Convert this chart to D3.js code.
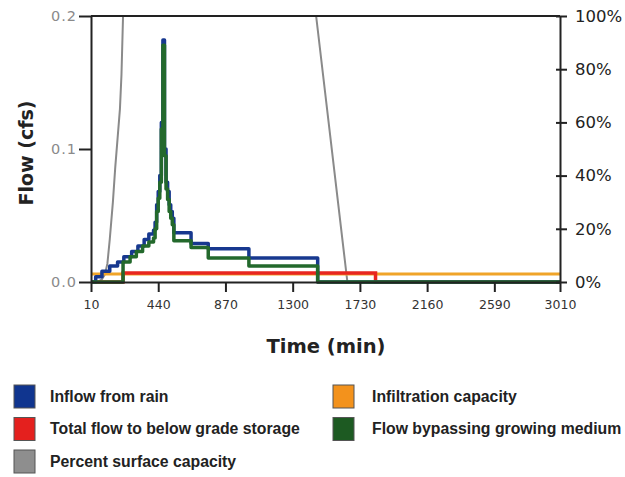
<!DOCTYPE html>
<html>
<head>
<meta charset="utf-8">
<script src="https://cdn.jsdelivr.net/npm/d3@7"></script>
<style>
  body { margin: 0; background: #fff; }
  text { font-family: 'DejaVu Sans', sans-serif; }
  .legend text { font-family: 'Liberation Sans', Arial, sans-serif; }
</style>
</head>
<body>
<div id="chart"></div>
<script>
// values: [time (min), flow (cfs)] or [time, percent]
let inflowFromRain = [[10, 0], [40, 0.004], [80, 0.008], [130, 0.012], [180, 0.015], [220, 0.019], [270, 0.023], [310, 0.027], [350, 0.032], [380, 0.036], [410, 0.039], [420, 0.045], [430, 0.058], [440, 0.068], [450, 0.08], [460, 0.12], [470, 0.182], [480, 0.1], [490, 0.075], [500, 0.068], [510, 0.058], [520, 0.053], [530, 0.048], [540, 0.037], [650, 0.029], [760, 0.025], [1020, 0.018], [1460, 0], [3010, 0]]
let bypassFlow = [[10, 0], [215, 0.015], [260, 0.019], [300, 0.023], [340, 0.027], [380, 0.03], [410, 0.033], [420, 0.04], [430, 0.053], [440, 0.063], [450, 0.075], [460, 0.115], [470, 0.178], [480, 0.095], [490, 0.07], [500, 0.062], [510, 0.053], [520, 0.048], [530, 0.043], [540, 0.031], [650, 0.026], [760, 0.018], [1020, 0.012], [1460, 0], [3010, 0]]
let belowGradeFlow = [[10, 0], [215, 0.0068], [1830, 0], [3010, 0]]
let infiltrationCapacity = [[10, 0.006], [3010, 0.006]]
let percentSurface = [[10, 0], [50, 0], [80, 1], [100, 3], [115, 7], [130, 16], [150, 30], [165, 43], [180, 54], [195, 65], [205, 78], [215, 100], [1450, 100], [1650, 0], [3010, 0]]

let xTicks = [10, 440, 870, 1300, 1730, 2160, 2590, 3010]
let flowTicks = [0, 0.1, 0.2]
let percentTicks = [0, 20, 40, 60, 80, 100]

let legendItems = [
  { name: 'Inflow from rain', color: '#10358f', col: 0, row: 0 },
  { name: 'Total flow to below grade storage', color: '#e4201e', col: 0, row: 1 },
  { name: 'Percent surface capacity', color: '#8e8e8e', col: 0, row: 2 },
  { name: 'Infiltration capacity', color: '#f3921c', col: 1, row: 0 },
  { name: 'Flow bypassing growing medium', color: '#1d5a22', col: 1, row: 1 }
]

let margin = { top: 16, left: 91, right: 65, bottom: 195 }
let width = 625 - margin.left - margin.right
let height = 477 - margin.top - margin.bottom

let svg = d3
  .select('#chart')
  .append('svg')
  .attr('width', 625)
  .attr('height', 477)

let g = svg
  .append('g')
  .attr('transform', 'translate(' + margin.left + ',' + margin.top + ')')

let xPositionScale = d3.scaleLinear().domain([10, 3010]).range([0, width])
let yPositionScale = d3.scaleLinear().domain([0, 0.2]).range([height, 0])
let percentScale = d3.scaleLinear().domain([0, 100]).range([height, 0])

let stepLine = d3
  .line()
  .x(d => xPositionScale(d[0]))
  .y(d => yPositionScale(d[1]))
  .curve(d3.curveStepAfter)

let percentLine = d3
  .line()
  .x(d => xPositionScale(d[0]))
  .y(d => percentScale(d[1]))

// series
g.append('path')
  .attr('d', percentLine(percentSurface))
  .attr('fill', 'none')
  .attr('stroke', '#8a8a8a')
  .attr('stroke-width', 2)

g.append('path')
  .attr('d', stepLine(infiltrationCapacity))
  .attr('fill', 'none')
  .attr('stroke', '#f0a428')
  .attr('stroke-width', 3)

g.append('path')
  .attr('d', stepLine(belowGradeFlow))
  .attr('fill', 'none')
  .attr('stroke', '#e8261f')
  .attr('stroke-width', 3.5)

g.append('path')
  .attr('d', stepLine(inflowFromRain))
  .attr('fill', 'none')
  .attr('stroke', '#17388f')
  .attr('stroke-width', 3.5)
  .attr('stroke-linejoin', 'round')

g.append('path')
  .attr('d', stepLine(bypassFlow))
  .attr('fill', 'none')
  .attr('stroke', '#23692c')
  .attr('stroke-width', 3.5)
  .attr('stroke-linejoin', 'round')

// top border
g.append('line')
  .attr('x1', 0)
  .attr('x2', width)
  .attr('y1', 0)
  .attr('y2', 0)
  .attr('stroke', '#222')
  .attr('stroke-width', 2)

// axes
let xAxis = d3
  .axisBottom(xPositionScale)
  .tickValues(xTicks)
  .tickFormat(d3.format('d'))
  .tickSize(10)
  .tickSizeOuter(0)
  .tickPadding(8)
g.append('g')
  .attr('class', 'axis x-axis')
  .attr('transform', 'translate(0,' + height + ')')
  .call(xAxis)

let yAxis = d3
  .axisLeft(yPositionScale)
  .tickValues(flowTicks)
  .tickFormat(d3.format('.1f'))
  .tickSize(12)
  .tickSizeOuter(0)
  .tickPadding(2)
g.append('g')
  .attr('class', 'axis y-axis')
  .call(yAxis)

let yAxisRight = d3
  .axisRight(percentScale)
  .tickValues(percentTicks)
  .tickFormat(d => d + '%')
  .tickSize(7)
  .tickSizeOuter(0)
  .tickPadding(8)
g.append('g')
  .attr('class', 'axis y-axis-right')
  .attr('transform', 'translate(' + width + ',0)')
  .call(yAxisRight)

g.selectAll('.y-axis-right .tick line').attr('x1', -4)

g.selectAll('.axis .domain')
  .attr('stroke', '#222')
  .attr('stroke-width', 2)
g.selectAll('.axis .tick line')
  .attr('stroke', '#222')
  .attr('stroke-width', 2)

g.selectAll('.x-axis .tick text')
  .attr('font-size', 12.5)
  .attr('fill', '#333')
g.selectAll('.y-axis .tick text')
  .attr('font-size', 14.5)
  .attr('fill', '#8a8a8a')
  .attr('letter-spacing', 1)
g.selectAll('.y-axis-right .tick text')
  .attr('font-size', 16.5)
  .attr('fill', '#222')

// axis titles
svg
  .append('text')
  .attr('transform', 'translate(33,153) rotate(-90)')
  .attr('text-anchor', 'middle')
  .attr('font-size', 19)
  .attr('font-weight', 'bold')
  .attr('fill', '#222')
  .text('Flow (cfs)')

svg
  .append('text')
  .attr('x', 326)
  .attr('y', 353)
  .attr('text-anchor', 'middle')
  .attr('font-size', 19.5)
  .attr('font-weight', 'bold')
  .attr('fill', '#222')
  .text('Time (min)')

// legend
let legend = svg
  .selectAll('.legend')
  .data(legendItems)
  .enter()
  .append('g')
  .attr('class', 'legend')
  .attr('transform', d => 'translate(' + (d.col === 0 ? 14 : 333) + ',' + (385 + d.row * 32.5) + ')')

legend
  .append('rect')
  .attr('width', 21)
  .attr('height', 23)
  .attr('fill', d => d.color)
  .attr('stroke', '#555')
  .attr('stroke-width', 1)

legend
  .append('text')
  .attr('x', d => (d.col === 0 ? 36 : 39))
  .attr('y', 11)
  .attr('dy', '0.35em')
  .attr('font-weight', 'bold')
  .attr('font-size', 15.8)
  .attr('fill', '#222')
  .text(d => d.name)
</script>
</body>
</html>
